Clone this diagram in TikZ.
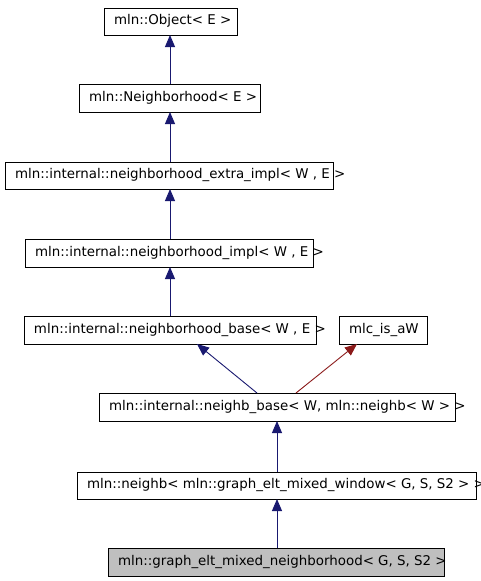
\documentclass[tikz,border=0pt]{standalone}
\usepackage{fontspec}
\setmainfont{DejaVu Sans}
\usetikzlibrary{arrows.meta}
\definecolor{navyline}{HTML}{191970}
\definecolor{redline}{HTML}{8B1A1A}
\definecolor{curgray}{HTML}{BFBFBF}
\tikzset{
  box/.style={draw=black, line width=0.9pt, inner xsep=10pt, inner ysep=0pt, outer sep=0pt, font=\fontsize{13.4}{15}\selectfont, text=black, anchor=center},
  inh/.style={draw=navyline, line width=0.9pt, -{Triangle[length=12pt,width=10pt,fill=navyline]}},
  inhred/.style={draw=redline, line width=0.9pt, -{Triangle[length=12pt,width=10pt,fill=redline]}},
}
\newcommand\bx[7]{\node[box,#6,minimum width={(#4-#2)*1pt}, minimum height={(#5-#3)*1pt}] (#1) at ({(#2+#4)/2},{-(#3+#5)/2}) {\makebox[\dimexpr #4pt-#2pt-20pt\relax][l]{\strut #7}};}
\begin{document}
\begin{tikzpicture}[x=1pt,y=1pt]
\useasboundingbox (0,0) rectangle (480,-581);
\bx{b1}{104}{8}{237}{35}{fill=white}{mln::Object< E >}
\bx{b2}{79}{84}{260}{112}{fill=white}{mln::Neighborhood< E >}
\bx{b3}{5}{162}{333}{189}{fill=white}{mln::internal::neighborhood\_extra\_impl< W , E >}
\bx{b4}{25}{239}{313}{267}{fill=white}{mln::internal::neighborhood\_impl< W , E >}
\bx{b5}{24}{316}{316}{344}{fill=white}{mln::internal::neighborhood\_base< W , E >}
\bx{b6}{339}{316}{427}{344}{fill=white}{mlc\_is\_aW}
\bx{b7}{99}{393}{455}{421}{fill=white}{mln::internal::neighb\_base< W, mln::neighb< W > >}
\bx{b8}{77}{472}{476}{499}{fill=white}{mln::neighb< mln::graph\_elt\_mixed\_window< G, S, S2 > >}
\bx{b9}{108}{548}{444}{576}{fill=curgray}{mln::graph\_elt\_mixed\_neighborhood< G, S, S2 >}
\draw[inh] ([xshift=0.5pt]b2.north) -- ([xshift=0.5pt]b2.north |- b1.south);
\draw[inh] ([xshift=1pt]b3.north) -- ([xshift=1pt]b3.north |- b2.south);
\draw[inh] ([xshift=1pt]b4.north) -- ([xshift=1pt]b4.north |- b3.south);
\draw[inh] (b5.north) -- (b5.north |- b4.south);
\draw[inh] ([xshift=-20pt]b7.north) -- ([xshift=27pt]b5.south);
\draw[inhred] ([xshift=19pt]b7.north) -- ([xshift=-26pt]b6.south);
\draw[inh] (b8.north -| b7.north) -- (b7.south);
\draw[inh] (b9.north -| b7.north) -- (b8.south -| b7.north);
\end{tikzpicture}
\end{document}
